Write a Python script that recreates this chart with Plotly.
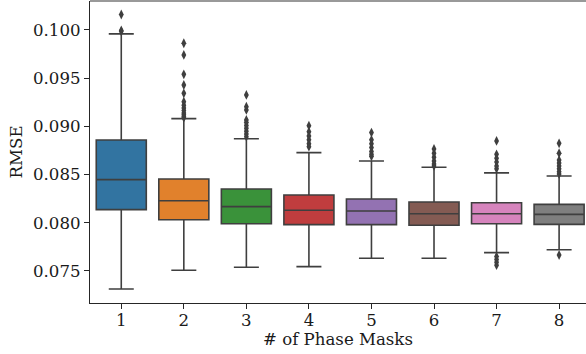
import plotly.graph_objects as go

categories = ["1", "2", "3", "4", "5", "6", "7", "8"]
q1 = [0.08136, 0.08032, 0.07990, 0.07981, 0.07981, 0.07974, 0.07990, 0.07983]
median = [0.08447, 0.08229, 0.08167, 0.08130, 0.08122, 0.08094, 0.08094, 0.08087]
q3 = [0.08859, 0.08454, 0.08351, 0.08288, 0.08247, 0.08216, 0.08208, 0.08191]
lower_whisker = [0.07313, 0.07507, 0.07538, 0.07545, 0.07632, 0.07632, 0.07690, 0.07721]
upper_whisker = [0.09959, 0.09080, 0.08872, 0.08727, 0.08641, 0.08576, 0.08517, 0.08485]

outliers = [
    [0.1016, 0.09995, 0.09985],
    [0.09862, 0.09741, 0.09540, 0.09429, 0.09343, 0.09256, 0.09220, 0.09191, 0.09165,
     0.09139, 0.09120, 0.09101, 0.09090],
    [0.09326, 0.09204, 0.09170, 0.09066, 0.09040, 0.09010, 0.08980, 0.08950, 0.08920, 0.08893],
    [0.09007, 0.08945, 0.08900, 0.08860, 0.08820, 0.08789],
    [0.08935, 0.08860, 0.08820, 0.08780, 0.08740, 0.08710, 0.08690],
    [0.08766, 0.08720, 0.08680, 0.08640, 0.08610, 0.08590],
    [0.08849, 0.08710, 0.08670, 0.08630, 0.08590, 0.08560, 0.07650, 0.07620, 0.07590, 0.07560],
    [0.08824, 0.08721, 0.08650, 0.08620, 0.08590, 0.08560, 0.08530, 0.08505, 0.07666],
]

colors = ["#3274a1", "#e1812c", "#3a923a", "#c03d3e", "#9372b2", "#845b53", "#d684bd", "#7f7f7f"]
line_color = "#3f3f3f"

fig = go.Figure()
for i, cat in enumerate(categories):
    fig.add_trace(go.Box(
        x=[i], q1=[q1[i]], median=[median[i]], q3=[q3[i]],
        lowerfence=[lower_whisker[i]], upperfence=[upper_whisker[i]],
        fillcolor=colors[i], line=dict(color=line_color, width=1.6),
        width=0.8, whiskerwidth=0.5, showlegend=False, hoverinfo="skip",
    ))
    fig.add_trace(go.Scatter(
        x=[i] * len(outliers[i]), y=outliers[i], mode="markers",
        marker=dict(symbol="diamond-tall", size=7, color=line_color),
        showlegend=False, hoverinfo="skip",
    ))

font = dict(family="DejaVu Serif", size=16.6, color="#1a1a1a")
fig.update_layout(
    width=586, height=354,
    margin=dict(l=90, r=0, t=1, b=51),
    plot_bgcolor="white", paper_bgcolor="white",
    boxmode="overlay",
    font=font,
    xaxis=dict(
        range=[-0.5, 7.43], tickmode="array", tickvals=list(range(8)), ticktext=categories,
        showgrid=False, zeroline=False, showline=True, linecolor="#262626", linewidth=1.3,
        ticks="outside", ticklen=5, tickcolor="#262626", tickfont=font,
        ticklabelstandoff=-3,
        title=dict(text="# of Phase Masks", font=font, standoff=2),
    ),
    yaxis=dict(
        range=[0.07168, 0.1030], tickmode="array",
        tickvals=[0.075, 0.080, 0.085, 0.090, 0.095, 0.100],
        ticktext=["0.075", "0.080", "0.085", "0.090", "0.095", "0.100"],
        showgrid=False, zeroline=False, showline=True, linecolor="#262626", linewidth=1.3,
        ticks="outside", ticklen=5, tickcolor="#262626", tickfont=font,
        title=dict(text="RMSE", font=font, standoff=6),
    ),
    shapes=[dict(type="line", xref="paper", yref="paper", x0=0, x1=1, y0=1, y1=1,
                 line=dict(color="#777777", width=1.5))],
)

fig.write_html("out.html")
